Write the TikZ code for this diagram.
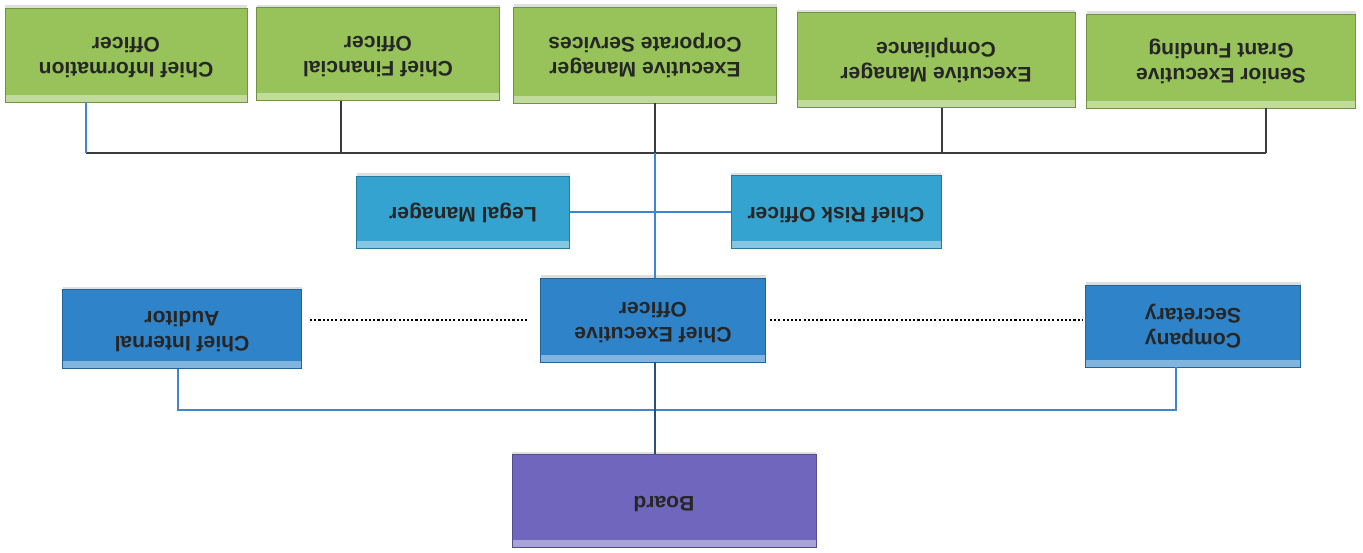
\documentclass[tikz,border=0pt]{standalone}
\usepackage{fontspec}
\setmainfont{Liberation Sans}
\usetikzlibrary{positioning,shadows}
\def \px {0.02cm}
\newcommand{\flip}[1]{\rotatebox[origin=c]{180}{\begin{tabular}{@{}c@{}}#1\end{tabular}}}
\definecolor{grn}{HTML}{97C35A}
\definecolor{riskblue}{HTML}{35A3CF}
\definecolor{ceoblue}{HTML}{2F84C9}
\definecolor{brd}{HTML}{7066BD}
\definecolor{busgrey}{HTML}{3C3C3C}
\definecolor{linkblue}{HTML}{3F86D2}
\begin{document}
\begin{tikzpicture}[x=\px,y=-\px,
    box/.style={draw=#1!75!black,fill=#1,line width=.4pt,inner sep=0pt,
      font=\fontsize{12}{14}\selectfont\bfseries,text=black!85,
      drop shadow={shadow xshift=0pt,shadow yshift=1.5pt,opacity=.25},
      path picture={\fill[white,opacity=.4] ([yshift=4pt]path picture bounding box.south west) rectangle (path picture bounding box.south east);}},
    wh/.style 2 args={minimum width=#1*\px,minimum height=#2*\px},
    link/.style={line width=1.1pt,busgrey},
    bluelink/.style={line width=.9pt,linkblue},
    dots/.style={line width=1.3pt,dash pattern=on 1.2pt off 1.2pt}]
    \useasboundingbox (0,0) rectangle (1363,553);
    % top row
    \node[box=grn,wh={242}{94}] (cio) at (126,55) {\flip{Chief Information\\Officer}};
    \node[box=grn,wh={243}{93}] (cfo) at (378,54) {\flip{Chief Financial\\Officer}};
    \node[box=grn,wh={263}{96}] (emcs) at (645,55) {\flip{Executive Manager\\Corporate Services}};
    \node[box=grn,wh={278}{95}] (emc) at (936,60) {\flip{Executive Manager\\Compliance}};
    \node[box=grn,wh={269}{94}] (segf) at (1221,61) {\flip{Senior Executive\\Grant Funding}};
    % middle
    \node[box=riskblue,wh={213}{72}] (legal) at (463,212) {\flip{Legal Manager}};
    \node[box=riskblue,wh={210}{73}] (cro) at (836,212) {\flip{Chief Risk Officer}};
    \node[box=ceoblue,wh={239}{79}] (cia) at (182,329) {\flip{Chief Internal\\Auditor}};
    \node[box=ceoblue,wh={225}{84}] (ceo) at (653,320) {\flip{Chief Executive\\Officer}};
    \node[box=ceoblue,wh={215}{82}] (cs) at (1193,326) {\flip{Company\\Secretary}};
    \node[box=brd,wh={304}{93}] (board) at (664,501) {\flip{Board}};
    % connectors
    \coordinate (busL) at (86,153);
    \coordinate (busR) at (1266,153);
    \coordinate (spine) at (655,153);
    \coordinate (bbL) at (178,410);
    \coordinate (bbR) at (1176,410);
    \draw[link] (busL) -- (busR);
    \draw[bluelink] (busL |- cio.south) -- (busL);
    \draw[link] ([xshift=-37*\px]cfo.south) coordinate (t) -- (t |- busL);
    \draw[link] (spine |- emcs.south) -- (spine);
    \draw[bluelink] (spine) -- (spine |- ceo.north);
    \draw[link] ([xshift=6*\px]emc.south) coordinate (t) -- (t |- busL);
    \draw[link] (busR |- segf.south) -- (busR);
    \draw[bluelink] (legal.east) -- (cro.west);
    \draw[dots,shorten <=13*\px,shorten >=8*\px] (ceo.west) -- (ceo.west -| cia.east);
    \draw[dots,shorten <=4*\px,shorten >=2*\px] (ceo.east) -- (ceo.east -| cs.west);
    \draw[bluelink] (bbL |- cia.south) -- (bbL) -- (bbR) -- (bbR |- cs.south);
    \draw[bluelink,linkblue!60!black] (spine |- ceo.south) -- (spine |- board.north);
\end{tikzpicture}
\end{document}
